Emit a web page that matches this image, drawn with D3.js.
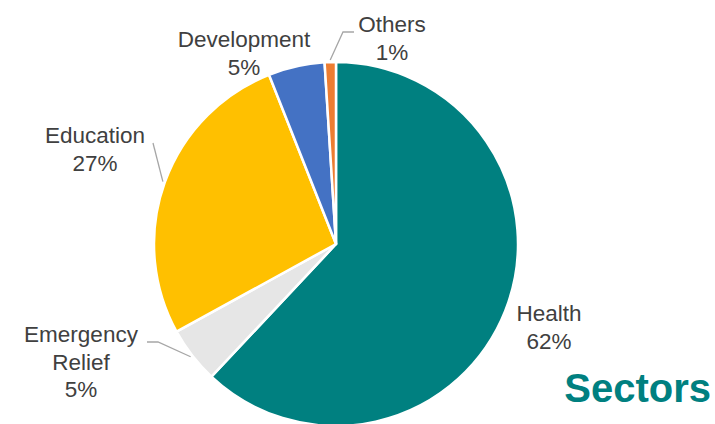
<!DOCTYPE html>
<html>
<head>
<meta charset="utf-8">
<script src="https://cdn.jsdelivr.net/npm/d3@7"></script>
<style>
  body { margin: 0; background: #fff; }
  svg { display: block; font-family: "Liberation Sans", Arial, sans-serif; }
</style>
</head>
<body>
<svg id="svg1" width="715" height="424"></svg>
<script>
// data
var sectors = ['Health', 'Emergency Relief', 'Education', 'Development', 'Others'];
var shares = [62, 5, 27, 5, 1];
var labelLines = [['Health'], ['Emergency', 'Relief'], ['Education'], ['Development'], ['Others']];
var colors = ['#008080', '#E6E6E6', '#FFC000', '#4472C4', '#ED7D31'];

// label layout: text anchor (center x, first baseline y), and leader elbow point
var labelPos = [
    {x: 549, y: 321, leader: null},
    {x: 81, y: 342, leader: [[147, 342], [158, 342]]},
    {x: 95, y: 143, leader: [[153, 143]]},
    {x: 244, y: 47, leader: null},
    {x: 392, y: 32, leader: [[354, 32], [343, 32]]}
];

var svg = d3.select('#svg1');
var cx = 336, cy = 244, radius = 182;
var lineH = 27.5;

var data = sectors.map(function(d, i) {
    return {name: d, value: shares[i], color: colors[i], lines: labelLines[i], pos: labelPos[i]};
});

var pie = d3.pie()
    .sort(null)
    .value(function(d) { return d.value; });

var arc = d3.arc()
    .innerRadius(0)
    .outerRadius(radius);

var arcs = pie(data);

var g = svg.append('g')
    .attr('transform', 'translate(' + cx + ',' + cy + ')');

g.selectAll('path.slice')
    .data(arcs)
    .enter()
    .append('path')
    .attr('class', 'slice')
    .attr('d', arc)
    .attr('fill', function(d) { return d.data.color; })
    .attr('stroke', '#fff')
    .attr('stroke-width', 2.5)
    .attr('stroke-linejoin', 'round');

// leader lines
arcs.forEach(function(a) {
    var p = a.data.pos;
    if (!p.leader) return;
    var mid = (a.startAngle + a.endAngle) / 2;
    var r = radius + 2;
    var end = [cx + r * Math.sin(mid), cy - r * Math.cos(mid)];
    var pts = p.leader.concat([end]);
    svg.append('path')
        .attr('d', d3.line()(pts))
        .attr('fill', 'none')
        .attr('stroke', '#A6A6A6')
        .attr('stroke-width', 1.3);
});

// labels
arcs.forEach(function(a) {
    var p = a.data.pos;
    var t = svg.append('text')
        .attr('text-anchor', 'middle')
        .attr('fill', '#404040')
        .style('font-size', '22.5px');
    var lines = a.data.lines.concat([a.data.value + '%']);
    lines.forEach(function(s, i) {
        t.append('tspan')
            .attr('x', p.x)
            .attr('y', p.y + i * lineH)
            .text(s);
    });
});

svg.append('text')
    .attr('x', 711)
    .attr('y', 402)
    .attr('text-anchor', 'end')
    .attr('fill', '#008080')
    .style('font-size', '40px')
    .style('font-weight', 'bold')
    .text('Sectors');
</script>
</body>
</html>
